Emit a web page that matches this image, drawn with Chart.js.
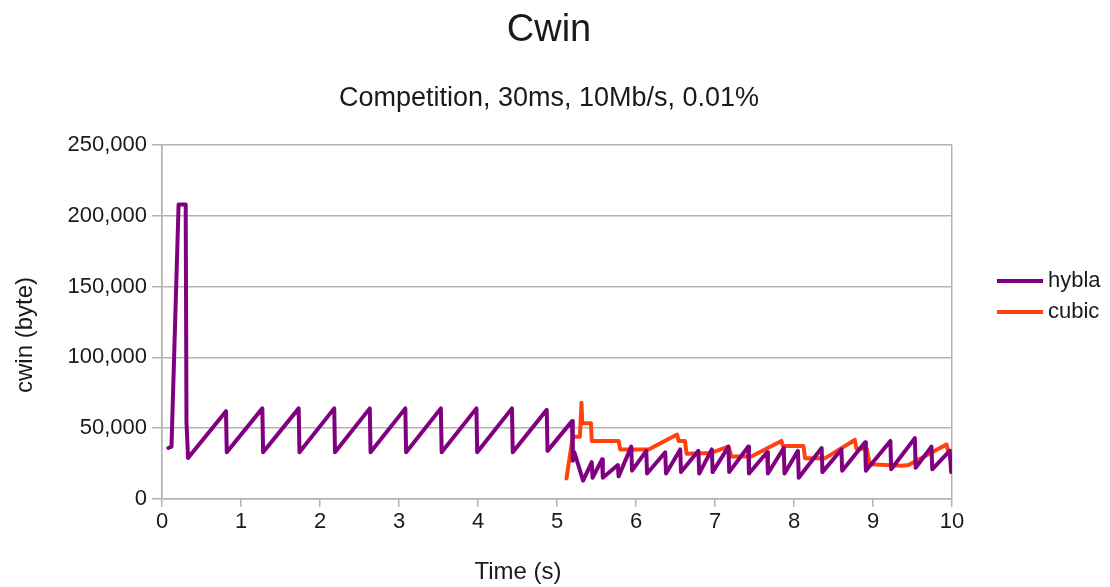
<!DOCTYPE html>
<html>
<head>
<meta charset="utf-8">
<title>Cwin</title>
<script src="https://cdn.jsdelivr.net/npm/chart.js@4.4.0/dist/chart.umd.min.js"></script>
<style>
  body { margin: 0; background: #fff; }
  #wrap { width: 1110px; height: 587px; }
</style>
</head>
<body>
<div id="wrap"><canvas id="myChart" width="1110" height="587"></canvas></div>
<script>
const chartTitle = 'Cwin';
const chartSubtitle = 'Competition, 30ms, 10Mb/s, 0.01%';
const xAxisTitle = 'Time (s)';
const yAxisTitle = 'cwin (byte)';
const seriesNames = ['hybla', 'cubic'];
const seriesColors = ['#800080', '#ff420e'];

// hybla: time (s) / cwin (byte)
const hyblaTime = [0.08, 0.12, 0.21, 0.30, 0.31, 0.33,
    0.81, 0.82, 1.27, 1.28, 1.73, 1.74, 2.18, 2.19, 2.63, 2.64, 3.08, 3.09, 3.53, 3.54,
    3.98, 3.99, 4.43, 4.44, 4.87, 4.88,
    5.19, 5.20, 5.22, 5.33,
    5.44, 5.45, 5.57, 5.58, 5.77, 5.78, 5.94, 5.95, 6.13, 6.14, 6.37, 6.38, 6.56, 6.57,
    6.79, 6.80, 6.96, 6.97, 7.17, 7.18, 7.42, 7.43, 7.66, 7.67, 7.87, 7.88, 8.05, 8.06,
    8.35, 8.36, 8.60, 8.61, 8.90, 8.91, 9.22, 9.23, 9.53, 9.54, 9.74, 9.75, 9.97, 9.99];
const hyblaCwin = [36000, 37000, 208000, 208000, 54000, 29000,
    62000, 33000, 64000, 33000, 64000, 33000, 64000, 33000, 64000, 33000, 64000, 33000, 64000, 33000,
    64000, 33000, 64000, 33000, 63000, 34000,
    55000, 27000, 33000, 13000,
    26000, 15000, 28000, 15000, 24000, 16000, 37000, 20000, 34000, 18000, 33000, 18000, 35000, 19000,
    34000, 18000, 35000, 19000, 37000, 19000, 37000, 18000, 33000, 18000, 36000, 18000, 34000, 15000,
    36000, 19000, 35000, 20000, 40000, 20000, 41000, 21000, 43000, 22000, 37000, 21000, 34000, 19000];

// cubic
const cubicTime = [5.12, 5.20, 5.29, 5.31, 5.32, 5.43, 5.44, 5.78, 5.80, 6.16, 6.52, 6.54, 6.62, 6.64,
    6.95, 7.17, 7.21, 7.46, 7.84, 7.86, 8.12, 8.14, 8.39, 8.77, 8.79, 8.92, 8.96, 9.36, 9.45,
    9.93, 9.95, 10.0];
const cubicCwin = [14500, 44000, 44000, 68000, 53500, 53500, 41000, 41000, 35000, 35000, 45500, 41000, 41000, 32000,
    32500, 37000, 30000, 30000, 41000, 37500, 37500, 28700, 28700, 41700, 35500, 35500, 24500, 23500, 24000,
    38500, 34000, 34000];

const textColor = '#1a1a1a';
const gridColor = '#b3b3b3';
const fontFamily = '"Liberation Sans", Arial, sans-serif';

function pontos(tempos, valores) {
    return tempos.map((t, i) => ({ x: t, y: valores[i] }));
}

// axis titles and legend at the spots the reference uses
const textosExtras = {
    id: 'textosExtras',
    afterDraw(chart) {
        const ctx = chart.ctx;
        ctx.save();
        ctx.fillStyle = textColor;
        ctx.font = '24px ' + fontFamily;
        ctx.textAlign = 'center';
        ctx.textBaseline = 'middle';
        ctx.fillText(xAxisTitle, 518, 572);
        ctx.translate(25, 335);
        ctx.rotate(-Math.PI / 2);
        ctx.fillText(yAxisTitle, 0, 0);
        ctx.restore();

        chart.data.datasets.forEach((ds, i) => {
            const y = 281 + 31 * i;
            ctx.save();
            ctx.strokeStyle = ds.borderColor;
            ctx.lineWidth = 4;
            ctx.beginPath();
            ctx.moveTo(997, y);
            ctx.lineTo(1043, y);
            ctx.stroke();
            ctx.fillStyle = textColor;
            ctx.font = '22px ' + fontFamily;
            ctx.textAlign = 'left';
            ctx.textBaseline = 'middle';
            ctx.fillText(ds.label, 1048, y);
            ctx.restore();
        });
    }
};

const ctx = document.getElementById('myChart').getContext('2d');
new Chart(ctx, {
    type: 'line',
    data: {
        datasets: [{
            label: seriesNames[0],
            data: pontos(hyblaTime, hyblaCwin),
            borderColor: seriesColors[0],
            borderWidth: 4,
        }, {
            label: seriesNames[1],
            data: pontos(cubicTime, cubicCwin),
            borderColor: seriesColors[1],
            borderWidth: 4,
        }]
    },
    options: {
        responsive: false,
        animation: false,
        layout: { padding: { left: 0, right: 12, top: 0, bottom: 0 } },
        elements: {
            point: { radius: 0 },
            line: { tension: 0, fill: false, borderJoinStyle: 'round', borderCapStyle: 'round' }
        },
        scales: {
            x: {
                type: 'linear',
                min: 0,
                max: 10,
                ticks: { stepSize: 1, color: textColor, font: { family: fontFamily, size: 22 }, padding: 2, maxRotation: 0 },
                grid: {
                    color: c => (c.tick && (c.tick.value === 0 || c.tick.value === 10)) ? gridColor : 'rgba(0,0,0,0)',
                    tickColor: gridColor,
                    tickLength: 8,
                    lineWidth: 1.5
                },
                border: { display: true, color: gridColor, width: 1.5 },
                afterFit: s => { s.height = 88; }
            },
            y: {
                min: 0,
                max: 250000,
                ticks: {
                    stepSize: 50000,
                    color: textColor,
                    font: { family: fontFamily, size: 22 },
                    padding: 5,
                    callback: v => v.toLocaleString('en-US')
                },
                grid: { color: gridColor, tickColor: gridColor, tickLength: 10, lineWidth: 1.5 },
                border: { display: true, color: gridColor, width: 1.5 },
                afterFit: s => { s.width = 162; }
            },
            espaco: {
                type: 'linear',
                position: 'right',
                display: true,
                grid: { display: false },
                ticks: { display: false },
                border: { display: false },
                afterFit: s => { s.width = 146; }
            }
        },
        plugins: {
            legend: { display: false },
            tooltip: { enabled: false },
            title: {
                display: true,
                text: chartTitle,
                color: textColor,
                font: { family: fontFamily, size: 38, weight: 'normal' },
                padding: { top: 8, bottom: 0 }
            },
            subtitle: {
                display: true,
                text: chartSubtitle,
                color: textColor,
                font: { family: fontFamily, size: 27, weight: 'normal' },
                padding: { top: 29, bottom: 30 }
            }
        }
    },
    plugins: [textosExtras]
});
</script>
</body>
</html>
